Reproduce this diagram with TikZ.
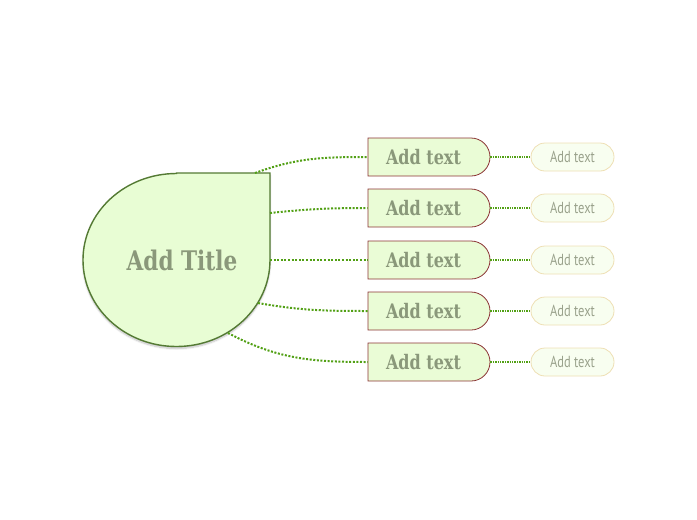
\documentclass[tikz,border=0pt]{standalone}
\usepackage{fontspec}
\usepackage{graphicx}
\usetikzlibrary{shapes.misc,shadows.blur}
\newfontfamily\slabfont{DejaVu Serif}
\newfontfamily\narrowfont{PT Sans}
\definecolor{titlefill}{HTML}{E8FDD4}
\definecolor{titleborder}{HTML}{547A34}
\definecolor{textgrey}{HTML}{8A987A}
\definecolor{mainfill}{HTML}{EAFCD6}
\definecolor{mainborder}{HTML}{8B3434}
\definecolor{subfill}{HTML}{F8FEF0}
\definecolor{subborder}{HTML}{EEDFB4}
\definecolor{subtext}{HTML}{9AA28C}
\definecolor{linkgreen}{HTML}{52A015}
\tikzset{
  mainbox/.style={rounded rectangle, rounded rectangle left arc=none, draw=mainborder, line width=0.8pt, fill=mainfill,
    minimum width=122pt, minimum height=38pt, inner sep=0pt},
  maintext/.style={text=textgrey, inner sep=0pt,
    font=\slabfont\bfseries\fontsize{20}{20}\selectfont},
  subbox/.style={rounded rectangle, draw=subborder, line width=0.8pt, fill=subfill,
    minimum width=83pt, minimum height=28pt, inner sep=0pt, text=subtext,
    font=\narrowfont\fontsize{16}{16}\selectfont},
  link/.style={draw=linkgreen, line width=2pt, dash pattern=on 2pt off 1.6pt},
  sublink/.style={draw=linkgreen, line width=1.3pt, dash pattern=on 1.3pt off 1.1pt}
}
\begin{document}
\begin{tikzpicture}[x=1pt,y=-1pt]
\useasboundingbox (0,0) rectangle (697,520);
% title shape
\path[fill=titlefill, draw=titleborder, line width=1.4pt, blur shadow={shadow blur steps=8, shadow xshift=0pt, shadow yshift=-2pt, shadow opacity=25}]
  (176.5,173) -- (270,173) -- (270,260) arc[start angle=0, end angle=270, x radius=93.5, y radius=86.5] -- cycle;
\node[text=textgrey, font=\slabfont\bfseries\fontsize{27}{27}\selectfont] (title) at (182,260) {\scalebox{0.8}[1]{Add Title}};
% attachment points
\coordinate (a1) at (255,173);
\coordinate (a2) at (270,213);
\coordinate (a3) at (270,260);
\coordinate (a4) at (258,303);
\coordinate (a5) at (228,333);
% main nodes
\foreach \i/\y in {1/157,2/208,3/260,4/311,5/362}{
  \node[mainbox] (m\i) at (429,\y) {};
  \node[maintext] (t\i) at (423.5,\y) {\scalebox{0.8}[1]{Add text}};
  \node[subbox] (s\i) at (572.5,\y) {\scalebox{0.78}[1]{Add text}};
  \draw[sublink] (m\i.east) -- (s\i.west);
}
\draw[link] (a1) to[out=20, in=180] (m1.west);
\draw[link] (a2) to[out=6, in=180] (m2.west);
\draw[link] (a3) -- (m3.west);
\draw[link] (a4) to[out=-10, in=180] (m4.west);
\draw[link] (a5) to[out=-28, in=180] (m5.west);
\end{tikzpicture}
\end{document}
